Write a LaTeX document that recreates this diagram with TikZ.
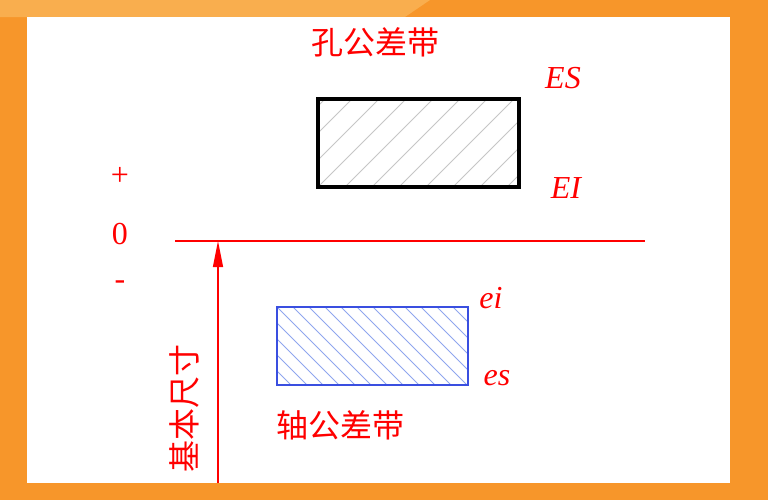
\documentclass[tikz,border=0pt]{standalone}
\usepackage{fontspec}
\setmainfont{Liberation Serif}
\newfontfamily\cjk{Noto Sans CJK SC}
\usetikzlibrary{arrows.meta}

\definecolor{bgorange}{HTML}{F7962A}
\definecolor{bglight}{HTML}{F9AE4E}
\definecolor{shaftblue}{HTML}{3A4FE0}
\definecolor{hatchblue}{HTML}{8FA6EE}
\tikzset{
  redtxt/.style={text=red, font=\fontsize{16}{16}\selectfont, inner sep=0pt},
  cjktxt/.style={text=red, font=\cjk\fontsize{16}{16}\selectfont, inner sep=0pt},
  devtxt/.style={text=red, font=\itshape\fontsize{16}{16}\selectfont, inner sep=0pt},
}

\begin{document}
\begin{tikzpicture}[x=0.5pt,y=-0.5pt]
    % background
    \fill[bgorange] (0,0) rectangle (768,500);
    \fill[bglight] (0,0) -- (430,0) -- (405,17) -- (0,17) -- cycle;
    \fill[white] (27,17) rectangle (730,483);

    \coordinate (lineL) at (175,241);
    \coordinate (lineR) at (645,241);
    \coordinate (zero) at (218,241);
    \coordinate (base) at (218,483);

    % hole zone
    \coordinate (H1) at (318,99);
    \coordinate (H2) at (519,187);
    \begin{scope}
        \clip (H1) rectangle (H2);
        \foreach \i in {-81,-54,...,220}
            \draw[gray!45, line width=0.5pt] (318+\i,187) -- ++(100,-100);
    \end{scope}
    \draw[line width=2pt] (H1) rectangle (H2);

    % shaft zone
    \coordinate (S1) at (277,307);
    \coordinate (S2) at (468,385);
    \begin{scope}
        \clip (S1) rectangle (S2);
        \foreach \i in {-80,-64,...,200}
            \draw[hatchblue, line width=0.5pt] (277+\i,307) -- ++(80,80);
    \end{scope}
    \draw[shaftblue, line width=0.7pt] (S1) rectangle (S2);

    % zero line and basic size
    \draw[red, line width=0.6pt] (lineL) -- (lineR);
    \draw[red, line width=0.6pt, -{Triangle[length=13pt,width=5pt]}] (base) -- (zero);

    \node[cjktxt] (holelbl) at (376,42) {孔公差带};
    \node[cjktxt] (shaftlbl) at (341,425) {轴公差带};
    \node[cjktxt, rotate=90] (sizelbl) at (184,408) {基本尺寸};

    \node[devtxt] (ES) at (563,78) {ES};
    \node[devtxt] (EI) at (566,188) {EI};
    \node[devtxt] (ei) at (491,298) {ei};
    \node[devtxt] (es) at (497,378) {es};

    \node[redtxt] (plus) at (120,176) {+};
    \node[redtxt] (nil) at (120,234) {0};
    \node[redtxt] (minus) at (120,285) {-};
\end{tikzpicture}
\end{document}
